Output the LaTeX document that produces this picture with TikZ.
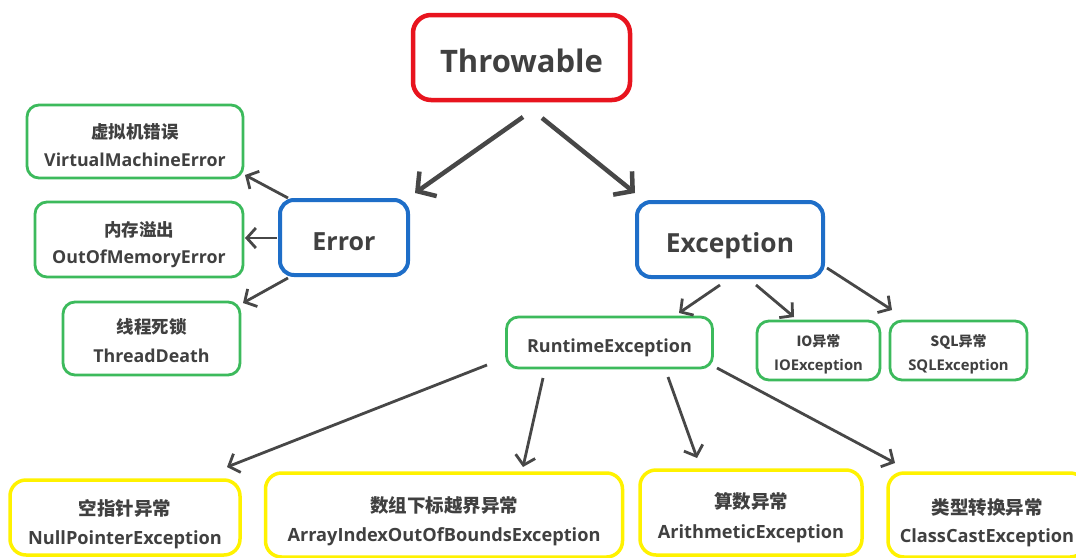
\documentclass[tikz,border=0pt]{standalone}
\usepackage{fontspec}
\setmainfont{Open Sans}
\newfontfamily\zh{Noto Sans CJK SC}
\usetikzlibrary{arrows.meta,calc}
\definecolor{txt}{HTML}{404040}
\definecolor{arrowgray}{HTML}{474747}
\definecolor{boxred}{HTML}{E8141E}
\definecolor{boxblue}{HTML}{1E6EC8}
\definecolor{boxgreen}{HTML}{3CBA5C}
\definecolor{boxyellow}{HTML}{FFF200}
\newcommand{\fs}[2]{\fontsize{#1}{#2}\selectfont}
% two-line label: strut height, strut depth, CJK size, CJK line, Latin line
\newcommand{\twoline}[5]{\rule{0pt}{#1pt}{\zh\fs{#3}{#3}#4}\\#5\rule[-#2pt]{0pt}{#2pt}}
\begin{document}
\begin{tikzpicture}[x=1pt,y=-1pt,
  basebox/.style={draw, fill=white, rounded corners=12pt, align=center, text=txt, inner sep=0pt, font=\bfseries},
  rootbox/.style={basebox, draw=boxred, line width=4.5pt, rounded corners=18pt},
  midbox/.style={basebox, draw=boxblue, line width=4pt, rounded corners=14pt},
  leafbox/.style={basebox, draw=boxgreen, line width=2.8pt},
  rtbox/.style={basebox, draw=boxyellow, line width=3.5pt, rounded corners=16pt},
  bigarr/.style={draw=arrowgray, line width=4.5pt, -{Straight Barb[length=13pt,width=30pt,line width=4.5pt]}},
  arr/.style={draw=arrowgray, line width=2.8pt, -{Straight Barb[length=9pt,width=20pt,line width=2.8pt]}}
]
\useasboundingbox (0,0) rectangle (1076,557);
\fill[white] (0,0) rectangle (1076,557);

% root and its two branches
\node[rootbox, minimum width=217pt, minimum height=85pt, text height=29pt, text depth=0pt, font=\bfseries\fs{31}{36}] (thr) at (521.5,57.5) {Throwable};
\node[midbox, minimum width=128pt, minimum height=75pt, text height=25pt, text depth=0pt, font=\bfseries\fs{25}{30}] (err) at (344,237.5) {Error};
\node[midbox, minimum width=186pt, minimum height=75pt, text height=25pt, text depth=0pt, font=\bfseries\fs{26.3}{31}] (exc) at (730,239.5) {Exception};

% errors
\node[leafbox, minimum width=216pt, minimum height=73pt, font=\bfseries\fs{17.8}{28}] (vm) at (135,141.5) {\twoline{28}{6}{17.5}{虚拟机错误}{VirtualMachineError}};
\node[leafbox, minimum width=208pt, minimum height=75pt, font=\bfseries\fs{17.8}{27}] (oom) at (139,239.5) {\twoline{26}{6}{17.5}{内存溢出}{OutOfMemoryError}};
\node[leafbox, minimum width=177pt, minimum height=73pt, font=\bfseries\fs{17.8}{29}] (td) at (151.5,338.5) {\twoline{24}{6}{17.5}{线程死锁}{ThreadDeath}};

% exceptions
\node[leafbox, minimum width=206pt, minimum height=51pt, text height=19pt, text depth=0pt, font=\bfseries\fs{18}{22}] (rt) at (609.5,342.5) {RuntimeException};
\node[leafbox, minimum width=123pt, minimum height=59pt, font=\bfseries\fs{14.8}{24}] (io) at (818.5,350.5) {\twoline{20}{5}{14}{IO异常}{IOException}};
\node[leafbox, minimum width=137pt, minimum height=59pt, font=\bfseries\fs{14.8}{24}] (sql) at (958.5,350.5) {\twoline{20}{5}{14}{SQL异常}{SQLException}};

% runtime exceptions
\node[rtbox, minimum width=230pt, minimum height=75pt, font=\bfseries\fs{18.2}{29}] (np) at (125,517.5) {\twoline{30}{6}{18.5}{空指针异常}{NullPointerException}};
\node[rtbox, minimum width=357pt, minimum height=84pt, font=\bfseries\fs{18.2}{29}] (ai) at (444,515) {\twoline{29}{6}{18.5}{数组下标越界异常}{ArrayIndexOutOfBoundsException}};
\node[rtbox, minimum width=222pt, minimum height=85pt, font=\bfseries\fs{18.2}{30}] (ar) at (751,512.5) {\twoline{27}{6}{18.5}{算数异常}{ArithmeticException}};
\node[rtbox, minimum width=198pt, minimum height=84pt, font=\bfseries\fs{18.2}{28}] (cc) at (987,515) {\twoline{32}{6}{18.5}{类型转换异常}{ClassCastException}};

% connectors
\draw[bigarr] ($(thr.center)+(1.5,59.5)$) -- ($(err.center)+(71,-44.5)$);
\draw[bigarr] ($(thr.center)+(20.5,60.5)$) -- ($(exc.center)+(-95,-46.5)$);

\draw[arr] ($(err.center)+(-56,-39.5)$) -- ($(vm.center)+(110,33.5)$);
\draw[arr] ($(err.center)+(-67,0.5)$) -- ($(oom.center)+(106,-1.5)$);
\draw[arr] ($(err.center)+(-56,40.5)$) -- ($(td.center)+(91.5,-35.5)$);

\draw[arr] ($(exc.center)+(-10,45.5)$) -- ($(rt.center)+(69.5,-29.5)$);
\draw[arr] ($(exc.center)+(26,45.5)$) -- ($(io.center)+(-24.5,-33.5)$);
\draw[arr] ($(exc.center)+(97,28.5)$) -- ($(sql.center)+(-66.5,-40.5)$);

\draw[arr] ($(rt.center)+(-122.5,22.5)$) -- ($(np.center)+(102,-50.5)$);
\draw[arr] ($(rt.center)+(-66.5,35.5)$) -- ($(ai.center)+(79,-48)$);
\draw[arr] ($(rt.center)+(58.5,34.5)$) -- ($(ar.center)+(-54,-54.5)$);
\draw[arr] ($(rt.center)+(107.5,25.5)$) -- ($(cc.center)+(-92,-52)$);
\end{tikzpicture}
\end{document}
